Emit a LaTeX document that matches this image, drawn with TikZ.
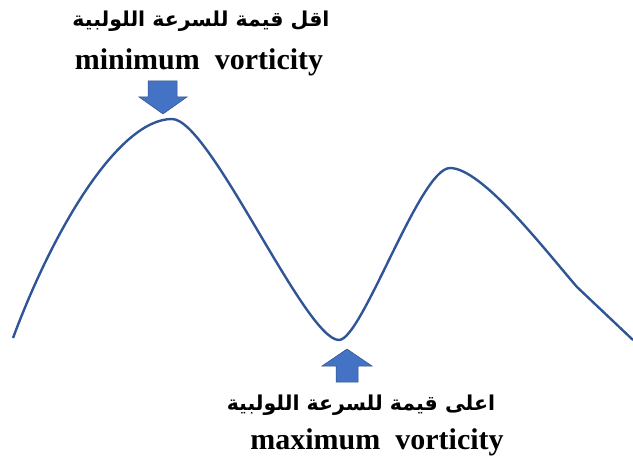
\documentclass[tikz,border=0pt]{standalone}
\usepackage{fontspec}
\setmainfont{Liberation Serif}
\newfontfamily\arabicfont[Script=Arabic]{DejaVu Sans}
\TeXXeTstate=1
\usepackage{tikz}
\definecolor{cCurve}{HTML}{2F5597}
\definecolor{cArrow}{HTML}{4472C4}
\tikzset{
  lat/.style={anchor=base, inner sep=0pt, font=\fontsize{30}{34}\selectfont\bfseries},
  arab/.style={anchor=base, inner sep=0pt, font=\fontsize{20.5}{25}\selectfont\arabicfont\bfseries},
  curve/.style={draw=cCurve, line width=2.4pt, line join=round},
  blockar/.style={fill=cArrow, draw=cArrow!70!black, line width=0.5pt},
}
\begin{document}
\begin{tikzpicture}[x=1pt, y=-1pt]
  \useasboundingbox (0,0) rectangle (633,460);
  % labels
  \node[arab] (minar) at (201,27) {\beginR اقل قيمة للسرعة اللولبية\endR};
  \node[lat]  (minla) at (199,70) {minimum\ \ vorticity};
  \node[arab] (maxar) at (361,410) {\beginR اعلى قيمة للسرعة اللولبية\endR};
  \node[lat]  (maxla) at (377,449) {maximum\ \ vorticity};
  % block arrows
  \draw[blockar] (148,81) -- (177,81) -- (177,97) -- (187,97) -- (163,114)
    -- (139,97) -- (148,97) -- cycle;
  \draw[blockar] (336,382) -- (358,382) -- (358,366) -- (372,366) -- (347,349)
    -- (322,366) -- (336,366) -- cycle;
  % vorticity curve
  \coordinate (c0) at (13,338);
  \coordinate (pk1) at (172,119);
  \coordinate (mn) at (339,340);
  \coordinate (pk2) at (450,168);
  \coordinate (kn) at (577,287);
  \coordinate (c1) at (633,340);
  \draw[curve] (c0) .. controls (55,225) and (120,119) .. (pk1)
    .. controls (210,119) and (305,340) .. (mn)
    .. controls (362,340) and (420,168) .. (pk2)
    .. controls (482,168) and (545,250) .. (kn) -- (c1);
\end{tikzpicture}
\end{document}
